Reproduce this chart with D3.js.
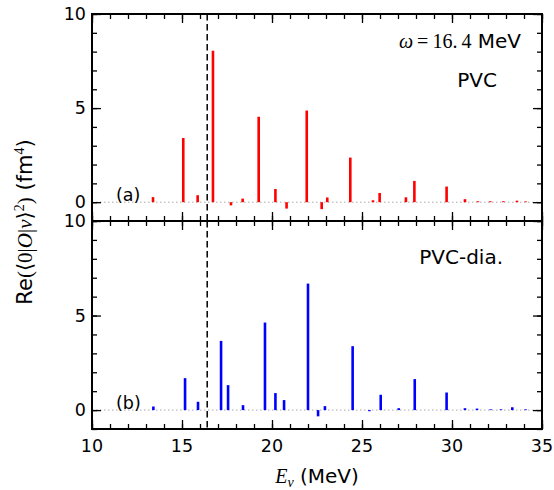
<!DOCTYPE html>
<html>
<head>
<meta charset="utf-8">
<script src="https://cdn.jsdelivr.net/npm/d3@7"></script>
<style>
  html, body { margin: 0; padding: 0; background: #fff; }
  svg { display: block; }
</style>
</head>
<body>
<svg id="chart" width="554" height="490"></svg>
<script>
// Transition energies (MeV) and strengths for the PVC calculation (panel a)
const pvcEnergy = [13.39, 15.07, 15.87, 16.72, 17.72, 18.37, 19.26, 20.19, 20.81, 21.93,
                   22.76, 23.07, 24.35, 25.61, 25.98, 27.44, 27.91, 29.70, 30.72, 31.44,
                   32.13, 32.85, 33.61, 34.09];
const pvcValue  = [0.27, 3.41, 0.37, 8.05, -0.17, 0.19, 4.54, 0.70, -0.34, 4.87,
                   -0.37, 0.25, 2.37, 0.10, 0.49, 0.26, 1.13, 0.83, 0.16, 0.05,
                   0.05, 0.05, 0.08, 0.04];

// Transition energies (MeV) and strengths for the diagonal PVC calculation (panel b)
const diaEnergy = [13.41, 15.17, 15.89, 17.17, 17.56, 18.39, 19.61, 20.19, 20.67, 22.00,
                   22.56, 22.94, 24.48, 25.41, 26.04, 27.04, 27.93, 29.70, 30.72, 31.39,
                   32.15, 32.72, 33.35, 34.09];
const diaValue  = [0.19, 1.69, 0.44, 3.66, 1.32, 0.26, 4.63, 0.90, 0.53, 6.69,
                   -0.33, 0.21, 3.38, -0.06, 0.81, 0.10, 1.64, 0.93, 0.10, 0.08,
                   0.04, 0.04, 0.15, 0.04];

const omega = 16.4;
const xTicks = [10, 15, 20, 25, 30, 35];
const yTicks = [0, 5, 10];

const svg = d3.select("#chart");
const left = 92, right = 542;
const panels = [
  { top: 14,  bottom: 221, energy: pvcEnergy, value: pvcValue, color: "#ff0000",
    tag: "(a)", name: "PVC", showX: false },
  { top: 221, bottom: 429, energy: diaEnergy, value: diaValue, color: "#0000ff",
    tag: "(b)", name: "PVC-dia.", showX: true }
];

const x = d3.scaleLinear().domain([10, 35]).range([left, right]);
const sans = "DejaVu Sans, sans-serif";
const serif = "Liberation Serif, DejaVu Serif, serif";
const minorX = d3.range(10, 36, 1);
const minorY = d3.range(-1, 11, 1);

panels.forEach(p => {
  const y = d3.scaleLinear().domain([-1, 10]).range([p.bottom, p.top]);
  const g = svg.append("g");

  // zero reference line
  g.append("line")
    .attr("x1", left).attr("x2", right)
    .attr("y1", y(0)).attr("y2", y(0))
    .attr("stroke", "#aaaaaa").attr("stroke-width", 1)
    .attr("stroke-dasharray", "1.5,2.5");

  // stick spectrum
  g.selectAll("line.bar").data(p.energy.map((e, i) => [e, p.value[i]]))
    .enter().append("line").attr("class", "bar")
    .attr("x1", d => x(d[0])).attr("x2", d => x(d[0]))
    .attr("y1", y(0)).attr("y2", d => y(d[1]))
    .attr("stroke", p.color).attr("stroke-width", 2.6);

  // omega marker
  g.append("line")
    .attr("x1", x(omega)).attr("x2", x(omega))
    .attr("y1", p.top).attr("y2", p.bottom)
    .attr("stroke", "#000").attr("stroke-width", 1.5)
    .attr("stroke-dasharray", "6.5,3.5");

  // inward ticks on all four sides
  const tickStyle = sel => sel.call(s => s.select(".domain").remove())
    .call(s => s.selectAll(".tick line").attr("stroke", "#000").attr("stroke-width", 1.3))
    .call(s => s.selectAll(".tick text").remove());

  g.append("g").attr("transform", `translate(0,${p.bottom})`)
    .call(d3.axisTop(x).tickValues(minorX).tickSize(5)).call(tickStyle);
  g.append("g").attr("transform", `translate(0,${p.bottom})`)
    .call(d3.axisTop(x).tickValues(xTicks).tickSize(9)).call(tickStyle);
  g.append("g").attr("transform", `translate(0,${p.top})`)
    .call(d3.axisBottom(x).tickValues(minorX).tickSize(5)).call(tickStyle);
  g.append("g").attr("transform", `translate(0,${p.top})`)
    .call(d3.axisBottom(x).tickValues(xTicks).tickSize(9)).call(tickStyle);
  g.append("g").attr("transform", `translate(${left},0)`)
    .call(d3.axisRight(y).tickValues(minorY).tickSize(5)).call(tickStyle);
  g.append("g").attr("transform", `translate(${left},0)`)
    .call(d3.axisRight(y).tickValues(yTicks).tickSize(9)).call(tickStyle);
  g.append("g").attr("transform", `translate(${right},0)`)
    .call(d3.axisLeft(y).tickValues(minorY).tickSize(5)).call(tickStyle);
  g.append("g").attr("transform", `translate(${right},0)`)
    .call(d3.axisLeft(y).tickValues(yTicks).tickSize(9)).call(tickStyle);

  // y tick labels
  g.selectAll("text.ylab").data(yTicks).enter().append("text")
    .attr("x", left - 6).attr("y", d => y(d))
    .attr("dy", "0.36em").attr("text-anchor", "end")
    .attr("font-family", sans).attr("font-size", 17.5).text(d => d);

  // frame
  g.append("rect")
    .attr("x", left).attr("y", p.top)
    .attr("width", right - left).attr("height", p.bottom - p.top)
    .attr("fill", "none").attr("stroke", "#000").attr("stroke-width", 2);

  // panel tag
  g.append("text")
    .attr("x", 116).attr("y", y(0) - 1.5)
    .attr("font-family", sans).attr("font-size", 17.5).text(p.tag);

  if (p.showX) {
    g.selectAll("text.xlab").data(xTicks).enter().append("text")
      .attr("x", d => x(d)).attr("y", 452).attr("text-anchor", "middle")
      .attr("font-family", sans).attr("font-size", 17.5).text(d => d);
  }
});

// panel annotations
const om = svg.append("text").attr("x", 521).attr("y", 48).attr("text-anchor", "end")
  .attr("font-size", 20);
om.append("tspan").attr("font-family", serif).attr("font-style", "italic").text("ω");
om.append("tspan").attr("font-family", serif).text("\u2009=\u200916.\u20094");
om.append("tspan").attr("font-family", sans).text(" MeV");

svg.append("text").attr("x", 497).attr("y", 87).attr("text-anchor", "end")
  .attr("font-family", sans).attr("font-size", 20).text("PVC");
svg.append("text").attr("x", 503).attr("y", 264).attr("text-anchor", "end")
  .attr("font-family", sans).attr("font-size", 20).text("PVC-dia.");

// x axis title
const xt = svg.append("text").attr("x", 317).attr("y", 483).attr("text-anchor", "middle")
  .attr("font-size", 20);
xt.append("tspan").attr("font-family", serif).attr("font-style", "italic").text("E");
xt.append("tspan").attr("font-family", serif).attr("font-style", "italic")
  .attr("font-size", 14).attr("dy", 4).text("ν");
xt.append("tspan").attr("font-family", sans).attr("dy", -4).text(" (MeV)");

// y axis title
const yt = svg.append("text")
  .attr("transform", "translate(32,222) rotate(-90)")
  .attr("text-anchor", "middle").attr("font-size", 21);
yt.append("tspan").attr("font-family", sans).text("Re");
yt.append("tspan").attr("font-family", serif).text("(⟨0|");
yt.append("tspan").attr("font-family", serif).attr("font-style", "italic").text("O");
yt.append("tspan").attr("font-family", serif).text("|");
yt.append("tspan").attr("font-family", serif).attr("font-style", "italic").text("ν");
yt.append("tspan").attr("font-family", serif).text("⟩");
yt.append("tspan").attr("font-family", serif).attr("font-size", 14).attr("dy", -8).text("2");
yt.append("tspan").attr("font-family", serif).attr("dy", 8).text(")");
yt.append("tspan").attr("font-family", sans).text(" (fm");
yt.append("tspan").attr("font-family", serif).attr("font-size", 14).attr("dy", -8).text("4");
yt.append("tspan").attr("font-family", sans).attr("dy", 8).text(")");
</script>
</body>
</html>
